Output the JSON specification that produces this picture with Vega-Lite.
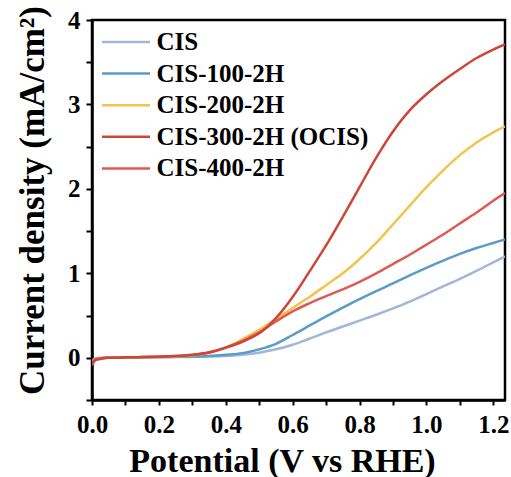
{
  "$schema": "https://vega.github.io/schema/vega-lite/v6.json",
  "width": 413,
  "height": 380,
  "autosize": {"type": "none"},
  "padding": {"left": 92, "top": 20, "right": 6, "bottom": 77},
  "background": "white",
  "config": {
    "font": "Liberation Serif",
    "view": {"stroke": "black", "strokeWidth": 2.5},
    "axis": {
      "grid": false,
      "domainColor": "black",
      "domainWidth": 2.5,
      "tickColor": "black",
      "tickWidth": 2,
      "labelFont": "Liberation Serif",
      "labelFontWeight": "bold",
      "labelColor": "black",
      "labelFontSize": 25,
      "labelOverlap": false,
      "labelFlush": false,
      "titleFont": "Liberation Serif",
      "titleFontWeight": "bold",
      "titleColor": "black"
    }
  },
  "data": {
    "values": [
      {"sample": "CIS", "potential": 0, "current": -0.03},
      {"sample": "CIS", "potential": 0.01, "current": -0.01},
      {"sample": "CIS", "potential": 0.03, "current": 0},
      {"sample": "CIS", "potential": 0.05, "current": 0},
      {"sample": "CIS", "potential": 0.1, "current": 0.003},
      {"sample": "CIS", "potential": 0.15, "current": 0.005},
      {"sample": "CIS", "potential": 0.2, "current": 0.006},
      {"sample": "CIS", "potential": 0.25, "current": 0.008},
      {"sample": "CIS", "potential": 0.3, "current": 0.01},
      {"sample": "CIS", "potential": 0.35, "current": 0.014},
      {"sample": "CIS", "potential": 0.4, "current": 0.02},
      {"sample": "CIS", "potential": 0.45, "current": 0.035},
      {"sample": "CIS", "potential": 0.5, "current": 0.06},
      {"sample": "CIS", "potential": 0.55, "current": 0.1},
      {"sample": "CIS", "potential": 0.6, "current": 0.155},
      {"sample": "CIS", "potential": 0.65, "current": 0.225},
      {"sample": "CIS", "potential": 0.7, "current": 0.3},
      {"sample": "CIS", "potential": 0.75, "current": 0.37},
      {"sample": "CIS", "potential": 0.8, "current": 0.44},
      {"sample": "CIS", "potential": 0.85, "current": 0.51},
      {"sample": "CIS", "potential": 0.9, "current": 0.585},
      {"sample": "CIS", "potential": 0.95, "current": 0.665},
      {"sample": "CIS", "potential": 1.0, "current": 0.755},
      {"sample": "CIS", "potential": 1.05, "current": 0.845},
      {"sample": "CIS", "potential": 1.1, "current": 0.935},
      {"sample": "CIS", "potential": 1.15, "current": 1.03},
      {"sample": "CIS", "potential": 1.2, "current": 1.13},
      {"sample": "CIS", "potential": 1.235, "current": 1.2},

      {"sample": "CIS-100-2H", "potential": 0, "current": -0.04},
      {"sample": "CIS-100-2H", "potential": 0.01, "current": -0.015},
      {"sample": "CIS-100-2H", "potential": 0.03, "current": -0.003},
      {"sample": "CIS-100-2H", "potential": 0.05, "current": 0},
      {"sample": "CIS-100-2H", "potential": 0.1, "current": 0.003},
      {"sample": "CIS-100-2H", "potential": 0.15, "current": 0.006},
      {"sample": "CIS-100-2H", "potential": 0.2, "current": 0.008},
      {"sample": "CIS-100-2H", "potential": 0.25, "current": 0.011},
      {"sample": "CIS-100-2H", "potential": 0.3, "current": 0.015},
      {"sample": "CIS-100-2H", "potential": 0.35, "current": 0.02},
      {"sample": "CIS-100-2H", "potential": 0.4, "current": 0.035},
      {"sample": "CIS-100-2H", "potential": 0.45, "current": 0.055},
      {"sample": "CIS-100-2H", "potential": 0.5, "current": 0.1},
      {"sample": "CIS-100-2H", "potential": 0.55, "current": 0.165},
      {"sample": "CIS-100-2H", "potential": 0.6, "current": 0.27},
      {"sample": "CIS-100-2H", "potential": 0.65, "current": 0.38},
      {"sample": "CIS-100-2H", "potential": 0.7, "current": 0.49},
      {"sample": "CIS-100-2H", "potential": 0.75, "current": 0.595},
      {"sample": "CIS-100-2H", "potential": 0.8, "current": 0.695},
      {"sample": "CIS-100-2H", "potential": 0.85, "current": 0.79},
      {"sample": "CIS-100-2H", "potential": 0.9, "current": 0.88},
      {"sample": "CIS-100-2H", "potential": 0.95, "current": 0.975},
      {"sample": "CIS-100-2H", "potential": 1.0, "current": 1.065},
      {"sample": "CIS-100-2H", "potential": 1.05, "current": 1.15},
      {"sample": "CIS-100-2H", "potential": 1.1, "current": 1.23},
      {"sample": "CIS-100-2H", "potential": 1.15, "current": 1.3},
      {"sample": "CIS-100-2H", "potential": 1.2, "current": 1.36},
      {"sample": "CIS-100-2H", "potential": 1.235, "current": 1.4},

      {"sample": "CIS-200-2H", "potential": 0, "current": -0.06},
      {"sample": "CIS-200-2H", "potential": 0.01, "current": -0.02},
      {"sample": "CIS-200-2H", "potential": 0.03, "current": -0.005},
      {"sample": "CIS-200-2H", "potential": 0.05, "current": 0},
      {"sample": "CIS-200-2H", "potential": 0.1, "current": 0.005},
      {"sample": "CIS-200-2H", "potential": 0.15, "current": 0.008},
      {"sample": "CIS-200-2H", "potential": 0.2, "current": 0.012},
      {"sample": "CIS-200-2H", "potential": 0.25, "current": 0.018},
      {"sample": "CIS-200-2H", "potential": 0.3, "current": 0.03},
      {"sample": "CIS-200-2H", "potential": 0.35, "current": 0.06},
      {"sample": "CIS-200-2H", "potential": 0.4, "current": 0.12},
      {"sample": "CIS-200-2H", "potential": 0.45, "current": 0.22},
      {"sample": "CIS-200-2H", "potential": 0.5, "current": 0.33},
      {"sample": "CIS-200-2H", "potential": 0.55, "current": 0.46},
      {"sample": "CIS-200-2H", "potential": 0.6, "current": 0.59},
      {"sample": "CIS-200-2H", "potential": 0.65, "current": 0.72},
      {"sample": "CIS-200-2H", "potential": 0.7, "current": 0.86},
      {"sample": "CIS-200-2H", "potential": 0.75, "current": 1.0},
      {"sample": "CIS-200-2H", "potential": 0.8, "current": 1.17},
      {"sample": "CIS-200-2H", "potential": 0.85, "current": 1.36},
      {"sample": "CIS-200-2H", "potential": 0.9, "current": 1.58},
      {"sample": "CIS-200-2H", "potential": 0.95, "current": 1.8},
      {"sample": "CIS-200-2H", "potential": 1.0, "current": 2.02},
      {"sample": "CIS-200-2H", "potential": 1.05, "current": 2.22},
      {"sample": "CIS-200-2H", "potential": 1.1, "current": 2.4},
      {"sample": "CIS-200-2H", "potential": 1.15, "current": 2.55},
      {"sample": "CIS-200-2H", "potential": 1.2, "current": 2.67},
      {"sample": "CIS-200-2H", "potential": 1.235, "current": 2.74},

      {"sample": "CIS-400-2H", "potential": 0, "current": -0.06},
      {"sample": "CIS-400-2H", "potential": 0.01, "current": -0.02},
      {"sample": "CIS-400-2H", "potential": 0.03, "current": -0.005},
      {"sample": "CIS-400-2H", "potential": 0.05, "current": 0},
      {"sample": "CIS-400-2H", "potential": 0.1, "current": 0.005},
      {"sample": "CIS-400-2H", "potential": 0.15, "current": 0.008},
      {"sample": "CIS-400-2H", "potential": 0.2, "current": 0.013},
      {"sample": "CIS-400-2H", "potential": 0.25, "current": 0.02},
      {"sample": "CIS-400-2H", "potential": 0.3, "current": 0.033},
      {"sample": "CIS-400-2H", "potential": 0.35, "current": 0.06},
      {"sample": "CIS-400-2H", "potential": 0.4, "current": 0.12},
      {"sample": "CIS-400-2H", "potential": 0.45, "current": 0.2},
      {"sample": "CIS-400-2H", "potential": 0.5, "current": 0.3},
      {"sample": "CIS-400-2H", "potential": 0.55, "current": 0.43},
      {"sample": "CIS-400-2H", "potential": 0.6, "current": 0.55},
      {"sample": "CIS-400-2H", "potential": 0.65, "current": 0.645},
      {"sample": "CIS-400-2H", "potential": 0.7, "current": 0.73},
      {"sample": "CIS-400-2H", "potential": 0.75, "current": 0.81},
      {"sample": "CIS-400-2H", "potential": 0.8, "current": 0.9},
      {"sample": "CIS-400-2H", "potential": 0.85, "current": 1.0},
      {"sample": "CIS-400-2H", "potential": 0.9, "current": 1.11},
      {"sample": "CIS-400-2H", "potential": 0.95, "current": 1.22},
      {"sample": "CIS-400-2H", "potential": 1.0, "current": 1.34},
      {"sample": "CIS-400-2H", "potential": 1.05, "current": 1.46},
      {"sample": "CIS-400-2H", "potential": 1.1, "current": 1.59},
      {"sample": "CIS-400-2H", "potential": 1.15, "current": 1.72},
      {"sample": "CIS-400-2H", "potential": 1.2, "current": 1.86},
      {"sample": "CIS-400-2H", "potential": 1.235, "current": 1.95},

      {"sample": "CIS-300-2H (OCIS)", "potential": 0, "current": -0.09},
      {"sample": "CIS-300-2H (OCIS)", "potential": 0.01, "current": -0.03},
      {"sample": "CIS-300-2H (OCIS)", "potential": 0.03, "current": -0.01},
      {"sample": "CIS-300-2H (OCIS)", "potential": 0.05, "current": 0},
      {"sample": "CIS-300-2H (OCIS)", "potential": 0.1, "current": 0.005},
      {"sample": "CIS-300-2H (OCIS)", "potential": 0.15, "current": 0.008},
      {"sample": "CIS-300-2H (OCIS)", "potential": 0.2, "current": 0.013},
      {"sample": "CIS-300-2H (OCIS)", "potential": 0.25, "current": 0.02},
      {"sample": "CIS-300-2H (OCIS)", "potential": 0.3, "current": 0.035},
      {"sample": "CIS-300-2H (OCIS)", "potential": 0.35, "current": 0.065},
      {"sample": "CIS-300-2H (OCIS)", "potential": 0.4, "current": 0.12},
      {"sample": "CIS-300-2H (OCIS)", "potential": 0.45, "current": 0.19},
      {"sample": "CIS-300-2H (OCIS)", "potential": 0.5, "current": 0.29},
      {"sample": "CIS-300-2H (OCIS)", "potential": 0.55, "current": 0.47},
      {"sample": "CIS-300-2H (OCIS)", "potential": 0.6, "current": 0.72},
      {"sample": "CIS-300-2H (OCIS)", "potential": 0.65, "current": 1.02},
      {"sample": "CIS-300-2H (OCIS)", "potential": 0.7, "current": 1.33},
      {"sample": "CIS-300-2H (OCIS)", "potential": 0.75, "current": 1.67},
      {"sample": "CIS-300-2H (OCIS)", "potential": 0.8, "current": 2.02},
      {"sample": "CIS-300-2H (OCIS)", "potential": 0.85, "current": 2.37},
      {"sample": "CIS-300-2H (OCIS)", "potential": 0.9, "current": 2.68},
      {"sample": "CIS-300-2H (OCIS)", "potential": 0.95, "current": 2.93},
      {"sample": "CIS-300-2H (OCIS)", "potential": 1.0, "current": 3.12},
      {"sample": "CIS-300-2H (OCIS)", "potential": 1.05, "current": 3.28},
      {"sample": "CIS-300-2H (OCIS)", "potential": 1.1, "current": 3.42},
      {"sample": "CIS-300-2H (OCIS)", "potential": 1.15, "current": 3.55},
      {"sample": "CIS-300-2H (OCIS)", "potential": 1.2, "current": 3.65},
      {"sample": "CIS-300-2H (OCIS)", "potential": 1.235, "current": 3.71}
    ]
  },
  "mark": {"type": "line", "strokeWidth": 2.5, "interpolate": "catmull-rom", "clip": true},
  "encoding": {
    "x": {
      "field": "potential",
      "type": "quantitative",
      "scale": {"domain": [0, 1.235], "nice": false, "zero": false},
      "axis": {
        "values": [0, 0.1, 0.2, 0.3, 0.4, 0.5, 0.6, 0.7, 0.8, 0.9, 1.0, 1.1, 1.2],
        "labelExpr": "round(datum.value * 10) % 2 == 0 ? format(datum.value, '.1f') : ''",
        "tickSize": 5,
        "labelPadding": 7,
        "title": "Potential (V vs RHE)",
        "titleFontSize": 34,
        "titleX": 190,
        "titleY": 71,
        "titleAlign": "center",
        "titleBaseline": "alphabetic"
      }
    },
    "y": {
      "field": "current",
      "type": "quantitative",
      "scale": {"domain": [-0.5, 4], "nice": false, "zero": false},
      "axis": {
        "values": [-0.5, 0, 0.5, 1, 1.5, 2, 2.5, 3, 3.5, 4],
        "labelExpr": "datum.value % 1 == 0 ? format(datum.value, 'd') : ''",
        "tickSize": 6,
        "labelPadding": 6,
        "title": "Current density (mA/cm²)",
        "titleFontSize": 35,
        "titleAngle": 270,
        "titleX": -49,
        "titleY": 180,
        "titleAlign": "center",
        "titleBaseline": "alphabetic"
      }
    },
    "color": {
      "field": "sample",
      "type": "nominal",
      "scale": {
        "domain": ["CIS", "CIS-100-2H", "CIS-200-2H", "CIS-300-2H (OCIS)", "CIS-400-2H"],
        "range": ["#a3b6d9", "#5a9bc8", "#f4c24f", "#cd4638", "#e05a55"]
      },
      "legend": {
        "orient": "none",
        "legendX": 10,
        "legendY": 8.5,
        "title": null,
        "symbolType": "M-2,0L2,0",
        "symbolSize": 576,
        "symbolStrokeWidth": 2.5,
        "symbolOffset": 10.5,
        "labelOffset": 17,
        "rowPadding": 4.6,
        "labelFont": "Liberation Serif",
        "labelFontSize": 25,
        "labelFontWeight": "bold",
        "labelColor": "black",
        "labelLimit": 400
      }
    }
  }
}
